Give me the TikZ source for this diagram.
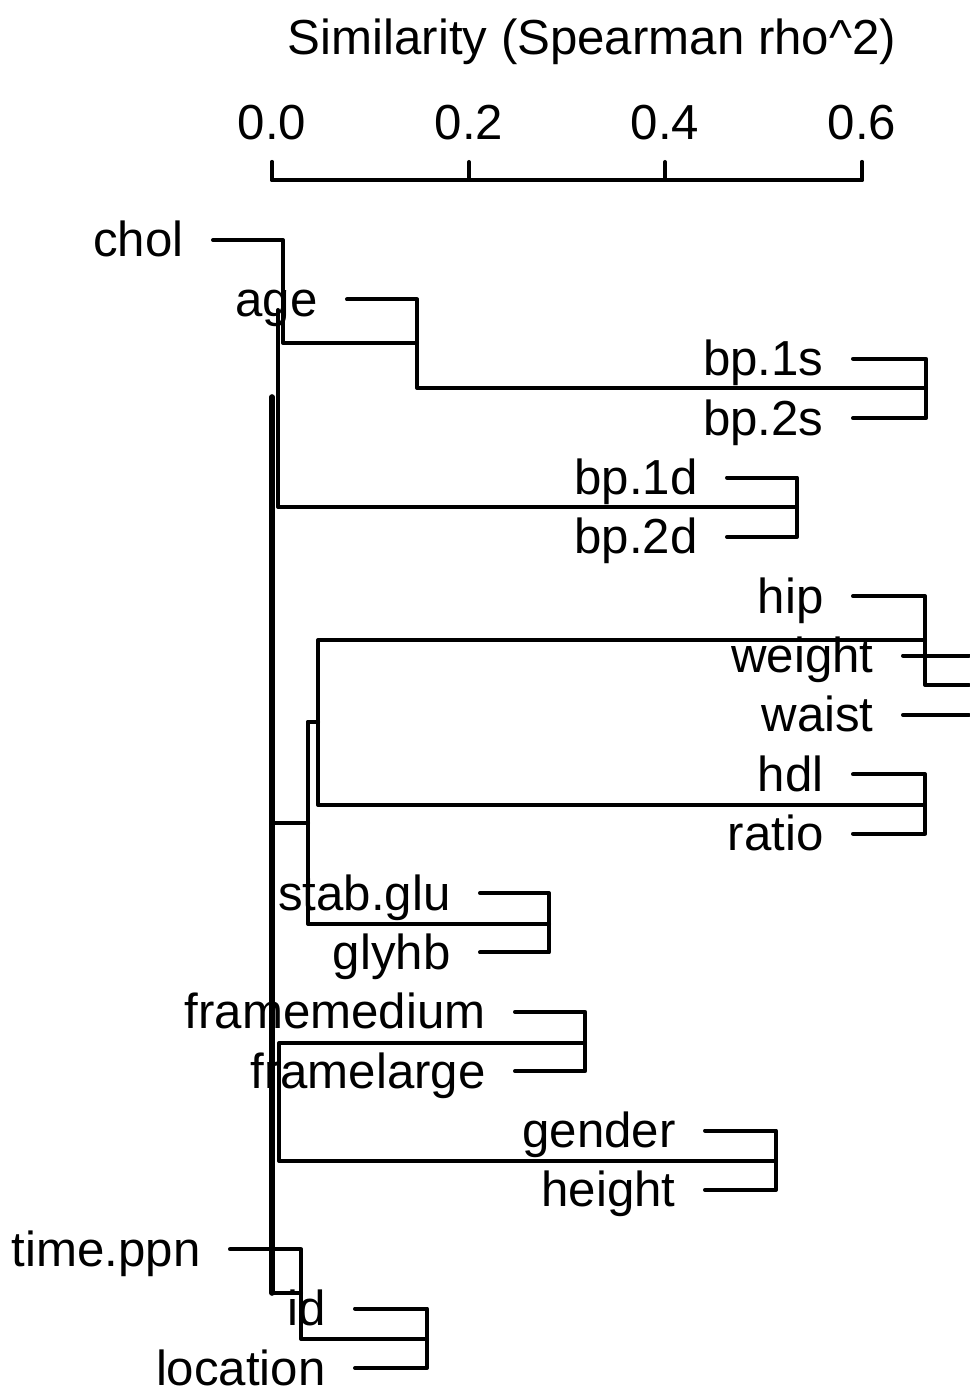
\documentclass[tikz,border=0pt]{standalone}
\usepackage{fontspec}
\setmainfont{Liberation Sans}
\usetikzlibrary{positioning,calc}
\tikzstyle{lbl} = [inner sep=0pt, anchor=base east, font=\fontsize{24.6}{30}\selectfont]
\tikzstyle{ttl} = [inner sep=0pt, anchor=base, font=\fontsize{24.6}{30}\selectfont]
\tikzstyle{tree} = [line width=2pt, line cap=round, line join=round]
\tikzstyle{spine} = [line width=2.8pt, line cap=round]
% leaf: coordinate at start of leaf line, label to its left
\newcommand{\leaf}[4]{\coordinate (#1) at (#3,#4); \node[lbl] (#1-txt) at ($(#1)+(-29,17)$) {#2};}

\begin{document}
\begin{tikzpicture}[x=0.5pt, y=-0.5pt]
\useasboundingbox (0,0) rectangle (969,1390);
% axis
\node[ttl] (title) at (592,55) {Similarity (Spearman rho\^{}2)};
\coordinate (a0) at (272,180);
\coordinate (a6) at (862,180);
\draw[tree] ($(a0)+(0,-18)$) -- (a0) -- (a6) -- ($(a6)+(0,-18)$);
\foreach \x/\v in {272/0.0, 469/0.2, 665/0.4, 862/0.6} {
  \draw[tree] (\x,180) -- (\x,162);
  \node[ttl] (tick\x) at (\x,140) {\v};
}
% leaves
\leaf{chol}{chol}{213}{240}
\leaf{age}{age}{347}{299.4}
\leaf{bp1s}{bp.1s}{853}{358.7}
\leaf{bp2s}{bp.2s}{853}{418.1}
\leaf{bp1d}{bp.1d}{727}{477.5}
\leaf{bp2d}{bp.2d}{727}{536.8}
\leaf{hip}{hip}{853}{596.2}
\leaf{weight}{weight}{903}{655.6}
\leaf{waist}{waist}{903}{714.9}
\leaf{hdl}{hdl}{853}{774.3}
\leaf{ratio}{ratio}{853}{833.7}
\leaf{stabglu}{stab.glu}{480}{893.1}
\leaf{glyhb}{glyhb}{480}{952.4}
\leaf{framemed}{framemedium}{515}{1011.8}
\leaf{framelrg}{framelarge}{515}{1071.2}
\leaf{gender}{gender}{705}{1130.5}
\leaf{height}{height}{705}{1189.9}
\leaf{timeppn}{time.ppn}{230}{1249.3}
\leaf{id}{id}{355}{1308.6}
\leaf{location}{location}{355}{1368}
% joins
\coordinate (m1) at (283,343);
\coordinate (m2) at (417,388);
\coordinate (s1) at (926,388);
\coordinate (t0) at (278,310);
\coordinate (t1) at (278,507);
\coordinate (d1) at (797,507);
\coordinate (k0) at (272,397);
\coordinate (k1) at (272,1293);
\coordinate (h1) at (318,640);
\coordinate (h2) at (318,805);
\coordinate (w1) at (925,685);
\coordinate (r1) at (925,805);
\coordinate (g0) at (272,823);
\coordinate (g1) at (308,823);
\coordinate (g2) at (308,722);
\coordinate (g3) at (308,924);
\coordinate (sg) at (549,924);
\coordinate (f0) at (279,1043);
\coordinate (f1) at (585,1043);
\coordinate (f2) at (279,1161);
\coordinate (hg) at (776,1161);
\coordinate (p1) at (301,1339);
\coordinate (p2) at (427,1339);
% upper part
\draw[tree] (chol) -| (m1) -- (m1 -| m2);
\draw[tree] (age) -| (m2) -- (s1);
\draw[tree] (bp1s) -| (s1) |- (bp2s);
\draw[tree] (t0) -- (t1) -- (d1);
\draw[tree] (bp1d) -| (d1) |- (bp2d);
\draw[spine] (k0) -- (k1);
% middle part
\draw[tree] (k1) -- (k1 -| p1);
\draw[tree] (g0) -- (g1);
\draw[tree] (g2) -- (g3) -- (sg);
\draw[tree] (g2) -- (g2 -| h1);
\draw[tree] (h1 -| r1) -- (h1) -- (h2) -- (r1);
\draw[tree] (hip) -| (w1) -- (w1 -| 969,0);
\draw[tree] (weight) -- (weight -| 969,0);
\draw[tree] (waist) -- (waist -| 969,0);
\draw[tree] (hdl) -| (r1) |- (ratio);
\draw[tree] (stabglu) -| (sg) |- (glyhb);
% lower part
\draw[tree] (framemed) -| (f1) |- (framelrg);
\draw[tree] (f1) -- (f0) -- (f2) -- (hg);
\draw[tree] (gender) -| (hg) |- (height);
\draw[tree] (timeppn) -| (p1) -- (p2);
\draw[tree] (id) -| (p2) |- (location);
\end{tikzpicture}
\end{document}
